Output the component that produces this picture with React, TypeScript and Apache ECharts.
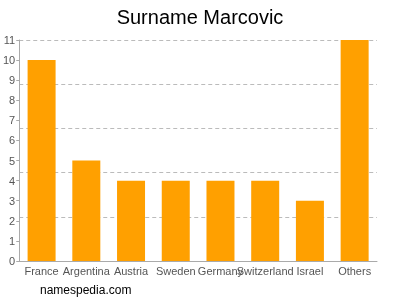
import React, { useEffect, useRef } from "react";
import * as echarts from "echarts";

const categories = ["France", "Argentina", "Austria", "Sweden", "Germany", "Switzerland", "Israel", "Others"];
const values = [10, 5, 4, 4, 4, 4, 3, 11];
const titleText = "Surname Marcovic";
const footerText = "namespedia.com";

export default function App() {
  const ref = useRef<HTMLDivElement>(null);
  useEffect(() => {
    const chart = echarts.init(ref.current!, null, { renderer: "svg" });
    chart.setOption({
      animation: false,
      title: {
        text: titleText,
        left: "center",
        top: 2,
        textStyle: { fontFamily: "Liberation Sans", fontSize: 20, fontWeight: "normal", color: "#000" },
      },
      graphic: [
        {
          type: "text",
          left: 40,
          top: 284,
          style: { text: footerText, fontFamily: "Liberation Sans", fontSize: 12, fill: "#000" },
        },
      ],
      grid: { left: 17, right: 23, top: 40, bottom: 39 },
      xAxis: {
        type: "category",
        data: categories,
        axisLine: { lineStyle: { color: "#aaa" } },
        axisTick: { show: false },
        axisLabel: { color: "#555", fontFamily: "Liberation Sans", fontSize: 11, interval: 0, margin: 4 },
      },
      yAxis: [
        {
          type: "value",
          min: 0,
          max: 11,
          interval: 1,
          axisLine: { show: true, lineStyle: { color: "#aaa" } },
          axisTick: { show: true, length: 3, lineStyle: { color: "#aaa" } },
          axisLabel: { color: "#555", fontFamily: "Liberation Sans", fontSize: 11, margin: 4 },
          splitLine: { show: false },
        },
        {
          type: "value",
          min: 0,
          max: 11,
          interval: 2.2,
          position: "left",
          axisLine: { show: false },
          axisTick: { show: false },
          axisLabel: { show: false },
          splitLine: { show: true, lineStyle: { color: "#bbb", type: [4, 3] } },
        },
      ],
      series: [
        {
          type: "bar",
          data: values,
          barWidth: 28,
          itemStyle: { color: "#FFA000" },
        },
      ],
    });
    return () => chart.dispose();
  }, []);
  return <div ref={ref} style={{ position: "fixed", left: 0, top: 0, width: 400, height: 300 }} />;
}
